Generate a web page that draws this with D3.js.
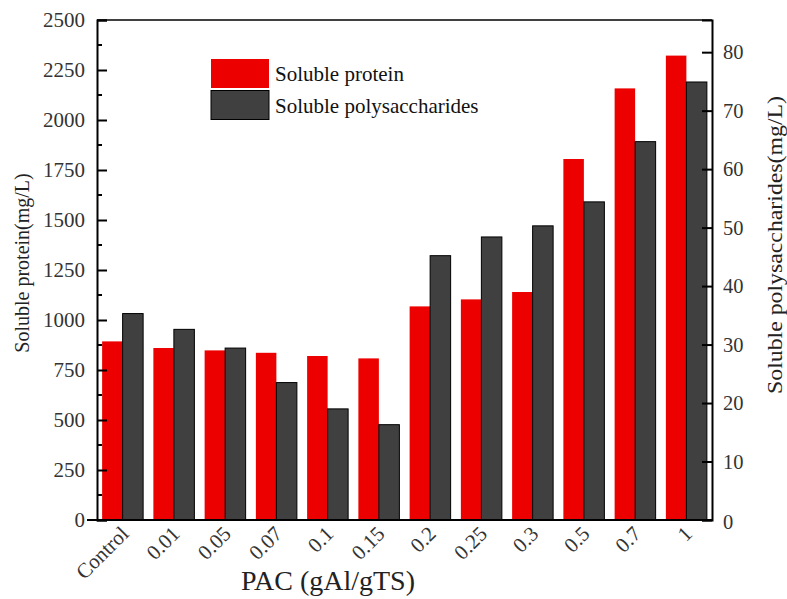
<!DOCTYPE html>
<html>
<head>
<meta charset="utf-8">
<script src="https://cdn.jsdelivr.net/npm/d3@7.9.0/dist/d3.min.js"></script>
<style>
  body { margin: 0; background: #fff; }
  svg { display: block; font-family: "Liberation Serif", "Times New Roman", serif; }
</style>
</head>
<body>
<svg id="chart" width="787" height="599"></svg>
<script>
const categories = ['Control', '0.01', '0.05', '0.07', '0.1', '0.15', '0.2', '0.25', '0.3', '0.5', '0.7', '1'];
const protein = [893, 860, 848, 836, 820, 808, 1068, 1103, 1140, 1805, 2158, 2322];
const polysaccharides = [35.3, 32.6, 29.4, 23.5, 19.0, 16.3, 45.2, 48.4, 50.3, 54.4, 64.7, 74.9];
const leftTicks = [0, 250, 500, 750, 1000, 1250, 1500, 1750, 2000, 2250, 2500];
const rightTicks = [0, 10, 20, 30, 40, 50, 60, 70, 80];
const seriesNames = ['Soluble protein', 'Soluble polysaccharides'];
const colors = ['#ec0000', '#404040'];

const svg = d3.select('#chart');
const plotLeft = 97, plotRight = 712, plotTop = 20, plotBottom = 520;

const x = d3.scaleBand()
  .domain(categories)
  .range([plotLeft, plotRight])
  .paddingInner(0.2)
  .paddingOuter(0.1);

const xSub = d3.scaleBand()
  .domain([0, 1])
  .range([0, x.bandwidth()]);

const yLeft = d3.scaleLinear().domain([0, 2500]).range([plotBottom, plotTop]);
const yRight = d3.scaleLinear().domain([0, 85.5]).range([plotBottom, plotTop]);

// bars
const groups = svg.append('g')
  .selectAll('g')
  .data(categories)
  .join('g')
  .attr('transform', d => `translate(${x(d)},0)`);

groups.append('rect')
  .attr('x', xSub(0))
  .attr('width', xSub.bandwidth())
  .attr('y', (d, i) => yLeft(protein[i]))
  .attr('height', (d, i) => plotBottom - yLeft(protein[i]))
  .attr('fill', colors[0]);

groups.append('rect')
  .attr('x', xSub(1))
  .attr('width', xSub.bandwidth())
  .attr('y', (d, i) => yRight(polysaccharides[i]))
  .attr('height', (d, i) => plotBottom - yRight(polysaccharides[i]))
  .attr('fill', colors[1])
  .attr('stroke', '#000')
  .attr('stroke-width', 1);

// frame
svg.append('line')
  .attr('x1', plotLeft).attr('x2', plotRight)
  .attr('y1', plotTop).attr('y2', plotTop)
  .attr('stroke', '#000').attr('stroke-width', 1.5);

// left axis
const yAxisL = d3.axisRight(yLeft)
  .tickValues(leftTicks)
  .tickSize(10)
  .tickFormat('');
const gL = svg.append('g')
  .attr('transform', `translate(${plotLeft},0)`)
  .call(yAxisL);
gL.select('.domain').attr('stroke-width', 2);
gL.selectAll('.tick line').attr('stroke-width', 2);

// minor ticks left
svg.append('g')
  .selectAll('line')
  .data(d3.range(125, 2500, 250))
  .join('line')
  .attr('x1', plotLeft).attr('x2', plotLeft + 5)
  .attr('y1', d => yLeft(d)).attr('y2', d => yLeft(d))
  .attr('stroke', '#000').attr('stroke-width', 2);

svg.append('g')
  .selectAll('text')
  .data(leftTicks)
  .join('text')
  .attr('x', plotLeft - 12)
  .attr('y', d => yLeft(d))
  .attr('dy', '0.35em')
  .attr('text-anchor', 'end')
  .attr('font-size', 21)
  .attr('fill', '#333')
  .text(d => d);

// right axis
const yAxisR = d3.axisLeft(yRight)
  .tickValues(rightTicks)
  .tickSize(10)
  .tickFormat('');
const gR = svg.append('g')
  .attr('transform', `translate(${plotRight},0)`)
  .call(yAxisR);
gR.select('.domain').attr('stroke-width', 2);
gR.selectAll('.tick line').attr('stroke-width', 2);

svg.append('g')
  .selectAll('text')
  .data(rightTicks)
  .join('text')
  .attr('x', plotRight + 11)
  .attr('y', d => yRight(d) + (d === 0 ? 2 : 0))
  .attr('dy', '0.35em')
  .attr('text-anchor', 'start')
  .attr('font-size', 20.5)
  .attr('fill', '#333')
  .text(d => d);

// bottom axis
svg.append('line')
  .attr('x1', plotLeft - 10).attr('x2', plotRight)
  .attr('y1', plotBottom).attr('y2', plotBottom)
  .attr('stroke', '#000').attr('stroke-width', 2);

svg.append('g')
  .selectAll('text')
  .data(categories)
  .join('text')
  .attr('transform', d => `translate(${x(d) + x.bandwidth() / 2 - 4},${plotBottom + 4}) rotate(-45)`)
  .attr('text-anchor', 'end')
  .attr('dy', '0.75em')
  .attr('font-size', 21)
  .attr('fill', '#333')
  .text(d => d);

// axis titles
svg.append('text')
  .attr('transform', `translate(22,263) rotate(-90)`)
  .attr('text-anchor', 'middle')
  .attr('dy', '0.35em')
  .attr('font-size', 20)
  .attr('fill', '#222')
  .text('Soluble protein(mg/L)');

svg.append('text')
  .attr('transform', `translate(775,245) rotate(-90)`)
  .attr('text-anchor', 'middle')
  .attr('dy', '0.35em')
  .attr('font-size', 20)
  .attr('textLength', 298)
  .attr('lengthAdjust', 'spacingAndGlyphs')
  .attr('fill', '#222')
  .text('Soluble polysaccharides(mg/L)');

svg.append('text')
  .attr('x', 328)
  .attr('y', 590)
  .attr('text-anchor', 'middle')
  .attr('font-size', 28)
  .attr('fill', '#222')
  .text('PAC (gAl/gTS)');

// legend
const legend = svg.append('g').attr('transform', 'translate(211,59)');
seriesNames.forEach((name, i) => {
  legend.append('rect')
    .attr('x', 0)
    .attr('y', i * 31.5)
    .attr('width', 58)
    .attr('height', 29)
    .attr('fill', colors[i])
    .attr('stroke', i === 1 ? '#000' : 'none');
  legend.append('text')
    .attr('x', 64)
    .attr('y', i * 31.5 + 22)
    .attr('font-size', 21)
    .attr('fill', '#111')
    .text(name);
});
</script>
</body>
</html>
